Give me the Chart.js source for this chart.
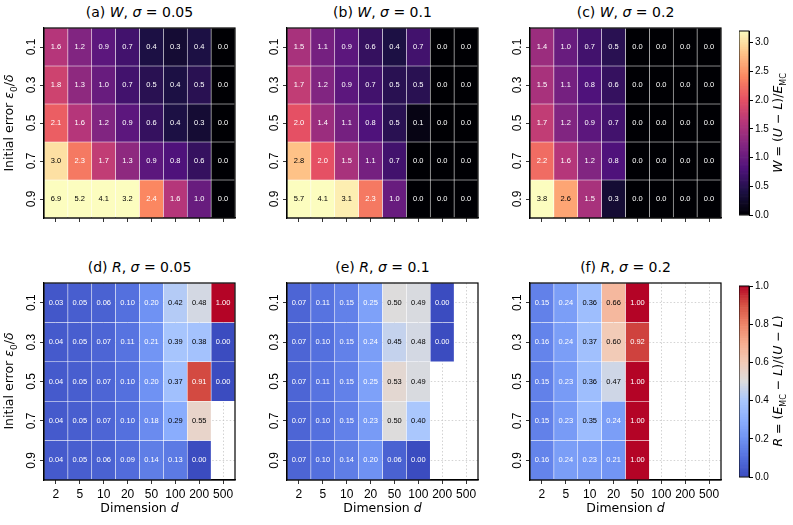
<!DOCTYPE html>
<html><head><meta charset="utf-8">
<script src="https://cdn.jsdelivr.net/npm/chart.js@4"></script>
<style>
body{margin:0;background:#fff;width:793px;height:525px;position:relative;overflow:hidden;font-family:"DejaVu Sans",sans-serif}
canvas{position:absolute}
.t{position:absolute;font-size:14px;color:#000;white-space:nowrap;text-align:center}
.yl{position:absolute;font-size:12.5px;white-space:nowrap;transform:translate(-50%,-50%) rotate(-90deg)}
.xl{position:absolute;font-size:12.5px;white-space:nowrap;transform:translateX(-50%)}
</style></head><body>
<script>
const dims=['2','5','10','20','50','100','200','500'];
const eps=['0.1','0.3','0.5','0.7','0.9'];
const W005=[[1.6,1.2,0.9,0.7,0.4,0.3,0.4,0.0],[1.8,1.3,1.0,0.7,0.5,0.4,0.5,0.0],[2.1,1.6,1.2,0.9,0.6,0.4,0.3,0.0],[3.0,2.3,1.7,1.3,0.9,0.8,0.6,0.0],[6.9,5.2,4.1,3.2,2.4,1.6,1.0,0.0]];
const W01=[[1.5,1.1,0.9,0.6,0.4,0.7,0.0,0.0],[1.7,1.2,0.9,0.7,0.5,0.5,0.0,0.0],[2.0,1.4,1.1,0.8,0.5,0.1,0.0,0.0],[2.8,2.0,1.5,1.1,0.7,0.0,0.0,0.0],[5.7,4.1,3.1,2.3,1.0,0.0,0.0,0.0]];
const W02=[[1.4,1.0,0.7,0.5,0.0,0.0,0.0,0.0],[1.5,1.1,0.8,0.6,0.0,0.0,0.0,0.0],[1.7,1.2,0.9,0.7,0.0,0.0,0.0,0.0],[2.2,1.6,1.2,0.8,0.0,0.0,0.0,0.0],[3.8,2.6,1.5,0.3,0.0,0.0,0.0,0.0]];
const R005=[[0.03,0.05,0.06,0.10,0.20,0.42,0.48,1.00],[0.04,0.05,0.07,0.11,0.21,0.39,0.38,0.00],[0.04,0.05,0.07,0.10,0.20,0.37,0.91,0.00],[0.04,0.05,0.07,0.10,0.18,0.29,0.55,null],[0.04,0.05,0.06,0.09,0.14,0.13,0.00,null]];
const R01=[[0.07,0.11,0.15,0.25,0.50,0.49,0.00,null],[0.07,0.10,0.15,0.24,0.45,0.48,0.00,null],[0.07,0.11,0.15,0.25,0.53,0.49,null,null],[0.07,0.10,0.15,0.23,0.50,0.40,null,null],[0.07,0.10,0.14,0.20,0.06,0.00,null,null]];
const R02=[[0.15,0.24,0.36,0.66,1.00,null,null,null],[0.16,0.24,0.37,0.60,0.92,null,null,null],[0.15,0.23,0.36,0.47,1.00,null,null,null],[0.15,0.23,0.35,0.24,1.00,null,null,null],[0.16,0.24,0.23,0.21,1.00,null,null,null]];
const wTicks=[0,0.5,1,1.5,2,2.5,3];
const rTicks=[0,0.2,0.4,0.6,0.8,1];

const magma=['#000004','#1c1044','#4f127b','#812581','#b5367a','#e55064','#fb8761','#fec287','#fcfdbf'];
const coolwarm=['#3b4cc0','#5470de','#6f92f3','#8db0fe','#aac7fd','#dddcdc','#f2cbb7','#f7ac8e','#ee8468','#d65244','#b40426'];
function hx(h){return [1,3,5].map(i=>parseInt(h.substr(i,2),16));}
function cmap(stops,t){t=Math.max(0,Math.min(1,t));const n=stops.length-1,i=Math.min(n-1,Math.floor(t*n)),f=t*n-i;const a=hx(stops[i]),b=hx(stops[i+1]);return a.map((v,k)=>Math.round(v+(b[k]-v)*f));}
function css(c){return `rgb(${c[0]},${c[1]},${c[2]})`;}

const PL=[44,287,530],PT=[28,283],PW=191,PH=[190,197];
function add(html,cls,x,y){const d=document.createElement('div');d.className=cls;d.innerHTML=html;d.style.left=x+'px';d.style.top=y+'px';document.body.appendChild(d);return d;}

function panel(col,row,data,isW,title){
  const cv=document.createElement('canvas');
  const L=PL[col]-30,T=PT[row]-5,w=PW+35,h=PH[row]+40;
  cv.style.left=L+'px';cv.style.top=T+'px';cv.width=w;cv.height=h;cv.style.width=w+'px';cv.style.height=h+'px';
  document.body.appendChild(cv);
  const vmax=isW?3.2:1, stops=isW?magma:coolwarm;
  const datasets=data.map((r,ri)=>({
    data:r.map(v=>v===null?null:[ri,ri+1]),
    backgroundColor:r.map(v=>v===null?'rgba(0,0,0,0)':css(cmap(stops,v/vmax))),
    borderColor:'rgba(255,255,255,0.35)',borderWidth:0.6,borderSkipped:false,
    barPercentage:1,categoryPercentage:1,vals:r
  }));
  new Chart(cv,{type:'bar',data:{labels:dims,datasets},
    options:{responsive:false,animation:false,devicePixelRatio:1,
      layout:{padding:{top:5,right:5,left:0,bottom:0}},
      plugins:{legend:{display:false},tooltip:{enabled:false}},
      scales:{
        x:{stacked:true,offset:true,grid:{offset:false,display:true,drawOnChartArea:!isW,color:'#c8c8c8',tickColor:'#000',tickLength:4,lineWidth:0.8},
           border:{display:true,color:'#000',width:1.2,dash:[1.5,2]},
           ticks:{display:!isW,color:'#000',font:{family:'Liberation Sans, Arial',size:12},maxRotation:0,padding:3},
           afterFit:s=>{s.height=35;}},
        y:{type:'linear',stacked:false,min:0,max:5,reverse:true,
           afterBuildTicks:s=>{s.ticks=[0.5,1.5,2.5,3.5,4.5].map(v=>({value:v}));},
           grid:{display:true,drawOnChartArea:!isW,color:'#c8c8c8',tickColor:'#000',tickLength:4,lineWidth:0.8},
           border:{display:true,color:'#000',width:1.2,dash:[1.5,2]},
           ticks:{display:false},afterFit:s=>{s.width=30;}}
      }},
    plugins:[{id:'p',
      afterDraw(c){const g=c.ctx,a=c.chartArea;
        g.save();g.setLineDash([]);
        g.strokeStyle='#000';g.lineWidth=1.2;g.strokeRect(a.left,a.top,a.right-a.left,a.bottom-a.top);
        g.font='7.5px "Liberation Sans", Arial';g.textAlign='center';g.textBaseline='middle';
        c.data.datasets.forEach((ds,ri)=>{const m=c.getDatasetMeta(ri);
          m.data.forEach((el,ci)=>{const v=ds.vals[ci];if(v===null)return;
            const col=cmap(stops,v/vmax);const lum=0.299*col[0]+0.587*col[1]+0.114*col[2];
            g.fillStyle=lum>170?'#000':'#fff';
            g.fillText(v.toFixed(isW?1:2),el.x,(el.y+el.base)/2);});});
        g.fillStyle='#000';g.font='12px "Liberation Sans", Arial';
        const ys=c.scales.y;
        eps.forEach((e,i)=>{const y=ys.getPixelForValue(i+0.5);g.save();g.translate(a.left-12,y);g.rotate(-Math.PI/2);g.fillText(e,0,0);g.restore();});
        g.restore();}}]
  });
  const d=add(title,'t',PL[col],PT[row]-24);d.style.width=PW+'px';
}

const D=[[W005,W01,W02],[R005,R01,R02]];
const titles=[['(a) <i>W</i>, <i>σ</i> = 0.05','(b) <i>W</i>, <i>σ</i> = 0.1','(c) <i>W</i>, <i>σ</i> = 0.2'],
              ['(d) <i>R</i>, <i>σ</i> = 0.05','(e) <i>R</i>, <i>σ</i> = 0.1','(f) <i>R</i>, <i>σ</i> = 0.2']];
for(let r=0;r<2;r++)for(let c=0;c<3;c++)panel(c,r,D[r][c],r===0,titles[r][c]);

function cbar(row,isW){
  const cv=document.createElement('canvas');const T=PT[row]-5,h=PH[row]+10,w=10+40;
  cv.style.left='739px';cv.style.top=T+'px';cv.width=w;cv.height=h;cv.style.width=w+'px';cv.style.height=h+'px';
  document.body.appendChild(cv);
  const vmax=isW?3.2:1,stops=isW?magma:coolwarm,N=80;
  const steps=[];for(let i=0;i<N;i++)steps.push(vmax/N);
  const datasets=steps.map((s,i)=>({data:[s],backgroundColor:css(cmap(stops,(i+0.5)/N)),borderWidth:0,barPercentage:1,categoryPercentage:1}));
  new Chart(cv,{type:'bar',data:{labels:['c'],datasets},
    options:{responsive:false,animation:false,devicePixelRatio:1,layout:{padding:{top:5,bottom:5,left:0,right:0}},
      plugins:{legend:{display:false},tooltip:{enabled:false}},
      scales:{x:{stacked:true,display:false},
        y:{stacked:true,position:'right',min:0,max:vmax,
          afterBuildTicks:s=>{s.ticks=(isW?wTicks:rTicks).map(v=>({value:v}));},
          grid:{drawOnChartArea:false,tickLength:4,tickColor:'#000'},border:{color:'#000'},
          ticks:{color:'#000',font:{family:'Liberation Sans, Arial',size:10},padding:2,callback:v=>v.toFixed(1)},
          afterFit:s=>{s.width=40;}}}},
    plugins:[{id:'f',afterDraw(c){const g=c.ctx,a=c.chartArea;g.strokeStyle='#000';g.lineWidth=1;g.strokeRect(a.left,a.top,a.right-a.left,a.bottom-a.top);}}]});
}
cbar(0,true);cbar(1,false);

add('Initial error <i>ε</i><sub style="font-size:9px">0</sub>/<i>δ</i>','yl',10,123);
add('Initial error <i>ε</i><sub style="font-size:9px">0</sub>/<i>δ</i>','yl',10,381);
add('<i>W</i> = (<i>U</i> − <i>L</i>)/<i>E</i><sub style="font-size:8px">MC</sub>','yl',779,123);
add('<i>R</i> = (<i>E</i><sub style="font-size:8px">MC</sub> − <i>L</i>)/(<i>U</i> − <i>L</i>)','yl',779,381);
PL.forEach(x=>add('Dimension <i>d</i>','xl',x+PW/2,500));
</script>
</body></html>
